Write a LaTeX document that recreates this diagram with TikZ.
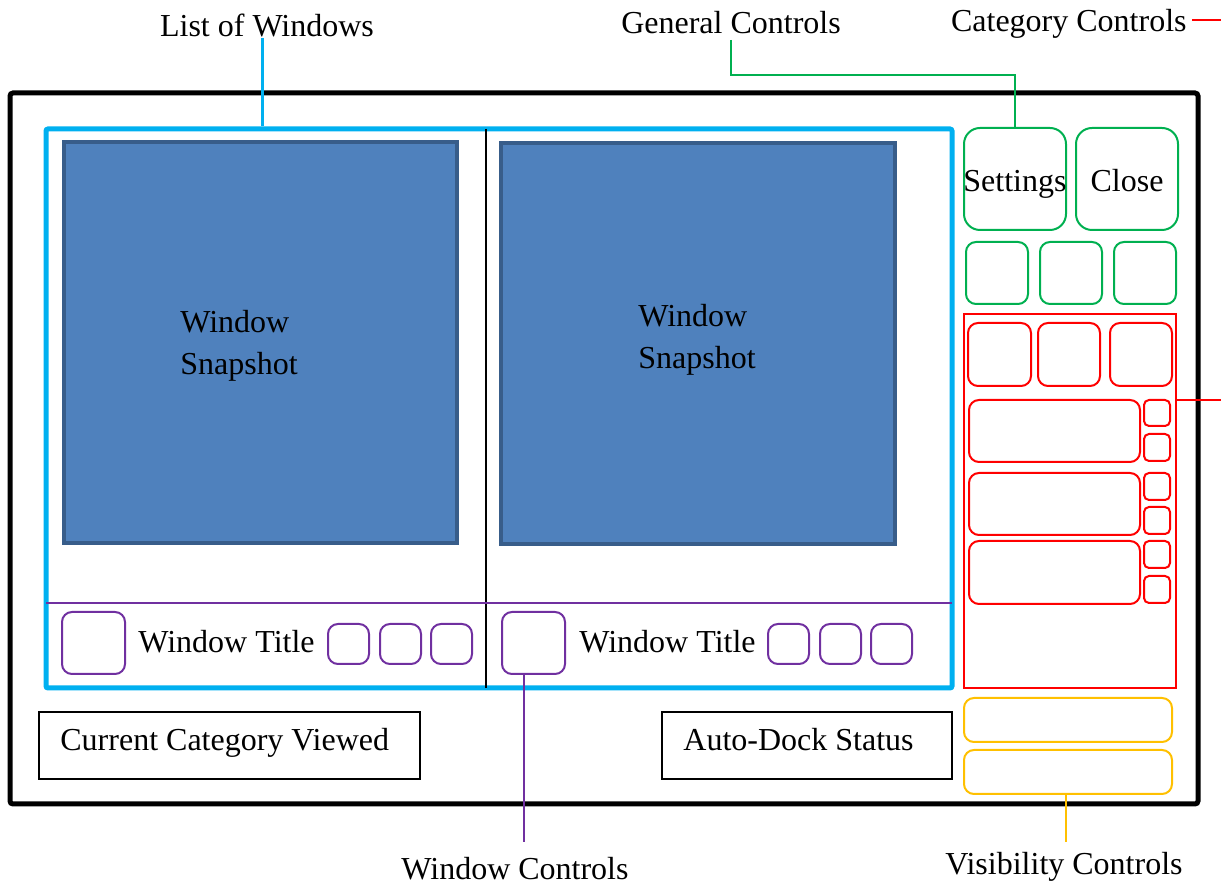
\documentclass[tikz,border=0pt]{standalone}
\usepackage{fontspec}
\setmainfont{Liberation Serif}
\usetikzlibrary{fit}
\definecolor{listblue}{HTML}{00B0F0}
\definecolor{snapfill}{HTML}{4F81BD}
\definecolor{snapedge}{HTML}{385D8A}
\definecolor{ctlpurple}{HTML}{7030A0}
\definecolor{ctlgreen}{HTML}{00B050}
\definecolor{ctlred}{HTML}{FF0000}
\definecolor{ctlyellow}{HTML}{FFC000}
\tikzset{
  frame/.style={draw=black, line width=2.5pt, rounded corners=1.5pt, inner sep=0pt},
  listframe/.style={draw=listblue, line width=2.5pt, rounded corners=1pt, inner sep=0pt},
  snap/.style={draw=snapedge, fill=snapfill, line width=2pt, inner sep=0pt},
  wbtn/.style={draw=ctlpurple, line width=1pt, rounded corners=5pt, inner sep=0pt},
  gbtn/.style={draw=ctlgreen, line width=1pt, rounded corners=8pt, inner sep=0pt},
  gsmall/.style={draw=ctlgreen, line width=1pt, rounded corners=5pt, inner sep=0pt},
  rbtn/.style={draw=ctlred, line width=1pt, rounded corners=5pt, inner sep=0pt},
  rsmall/.style={draw=ctlred, line width=1pt, rounded corners=2.5pt, inner sep=0pt},
  rpanel/.style={draw=ctlred, line width=1pt, inner sep=0pt},
  ybtn/.style={draw=ctlyellow, line width=1pt, rounded corners=5pt, inner sep=0pt},
  infobox/.style={draw=black, line width=0.8pt, inner sep=0pt},
  lbl/.style={inner sep=0pt, font=\fontsize{16}{19}\selectfont},
  wire/.style={line width=1pt},
}
\begin{document}
\begin{tikzpicture}[x=0.5pt, y=-0.5pt]
\useasboundingbox (0,0) rectangle (1221,886);

% outer frame and window list
\node[frame, fit={(10,93) (1198,804)}] (outer) {};
\node[listframe, fit={(46,129) (952,688)}] (list) {};
\coordinate (divtop) at (486,129);
\coordinate (divbot) at (486,688);
\draw[line width=1pt] (divtop) -- (divbot);
\coordinate (titletopL) at (46,603);
\coordinate (titletopR) at (952,603);
\draw[ctlpurple, line width=0.8pt] (titletopL) -- (titletopR);

% window snapshots
\node[snap, fit={(64,142) (457,543)}] (snap1) {};
\node[snap, fit={(501,143) (895,544)}] (snap2) {};
\node[lbl, anchor=base west] (snaptxt1a) at (180,333) {Window};
\node[lbl, anchor=base west] (snaptxt1b) at (180,375) {Snapshot};
\node[lbl, anchor=base west] (snaptxt2a) at (638,327) {Window};
\node[lbl, anchor=base west] (snaptxt2b) at (638,369) {Snapshot};

% title bars with window buttons
\node[wbtn, fit={(62,612) (125,674)}] (icon1) {};
\node[lbl, anchor=base west] (title1) at (138,653) {Window Title};
\node[wbtn, fit={(328,624) (369,664)}] (wb11) {};
\node[wbtn, fit={(380,624) (421,664)}] (wb12) {};
\node[wbtn, fit={(431,624) (472,664)}] (wb13) {};
\node[wbtn, fit={(502,612) (565,674)}] (icon2) {};
\node[lbl, anchor=base west] (title2) at (579,653) {Window Title};
\node[wbtn, fit={(768,624) (809,664)}] (wb21) {};
\node[wbtn, fit={(820,624) (861,664)}] (wb22) {};
\node[wbtn, fit={(871,624) (912,664)}] (wb23) {};

% status boxes
\node[infobox, fit={(39,712) (420,779)}] (catbox) {};
\node[lbl, anchor=base west] (cattxt) at (60,751) {Current Category Viewed};
\node[infobox, fit={(662,712) (952,779)}] (dockbox) {};
\node[lbl, anchor=base west] (docktxt) at (683,751) {Auto-Dock Status};

% general controls
\node[gbtn, fit={(964,128) (1066,230)}] (settings) {};
\node[lbl, anchor=base] (settingstxt) at (1015,192) {Settings};
\node[gbtn, fit={(1076,128) (1178,230)}] (close) {};
\node[lbl, anchor=base] (closetxt) at (1127,192) {Close};
\node[gsmall, fit={(966,242) (1028,304)}] (g1) {};
\node[gsmall, fit={(1040,242) (1102,304)}] (g2) {};
\node[gsmall, fit={(1114,242) (1176,304)}] (g3) {};

% category controls
\node[rpanel, fit={(964,314) (1176,688)}] (catpanel) {};
\node[rbtn, fit={(968,323) (1031,386)}] (r1) {};
\node[rbtn, fit={(1038,323) (1100,386)}] (r2) {};
\node[rbtn, fit={(1110,323) (1172,386)}] (r3) {};
\node[rbtn, fit={(969,400) (1140,462)}] (row1) {};
\node[rbtn, fit={(969,473) (1140,535)}] (row2) {};
\node[rbtn, fit={(969,541) (1140,604)}] (row3) {};
\node[rsmall, fit={(1144,400) (1170,426)}] (s11) {};
\node[rsmall, fit={(1144,434) (1170,461)}] (s12) {};
\node[rsmall, fit={(1144,473) (1170,500)}] (s21) {};
\node[rsmall, fit={(1144,507) (1170,534)}] (s22) {};
\node[rsmall, fit={(1144,541) (1170,568)}] (s31) {};
\node[rsmall, fit={(1144,576) (1170,603)}] (s32) {};

% visibility controls
\node[ybtn, fit={(964,698) (1172,742)}] (vis1) {};
\node[ybtn, fit={(964,750) (1172,794)}] (vis2) {};

% callout labels
\node[lbl, anchor=base] (listlbl) at (267,37) {List of Windows};
\node[lbl, anchor=base] (genlbl) at (731,34) {General Controls};
\node[lbl, anchor=base east] (catlbl) at (1187,32) {Category Controls};
\node[lbl, anchor=base] (wclbl) at (515,879) {Window Controls};
\node[lbl, anchor=base] (vislbl) at (1064,875) {Visibility Controls};

% callout connectors
\coordinate (listtop) at (262,38);
\draw[listblue, line width=1.5pt] (listtop) -- (listtop |- list.north);
\coordinate (genstart) at (731,40);
\coordinate (genbend) at (731,75);
\draw[ctlgreen, wire] (genstart) -- (genbend) -| (settings.north);
\coordinate (catstart) at (1192,20);
\coordinate (catedge) at (1221,20);
\draw[ctlred, wire] (catstart) -- (catedge);
\coordinate (paneledge) at (1221,400);
\draw[ctlred, wire] (catpanel.east |- paneledge) -- (paneledge);
\coordinate (wcend) at (524,842);
\draw[ctlpurple, wire] (wcend |- icon2.south) -- (wcend);
\coordinate (visend) at (1066,842);
\draw[ctlyellow, wire] (visend |- vis2.south) -- (visend);
\end{tikzpicture}
\end{document}
